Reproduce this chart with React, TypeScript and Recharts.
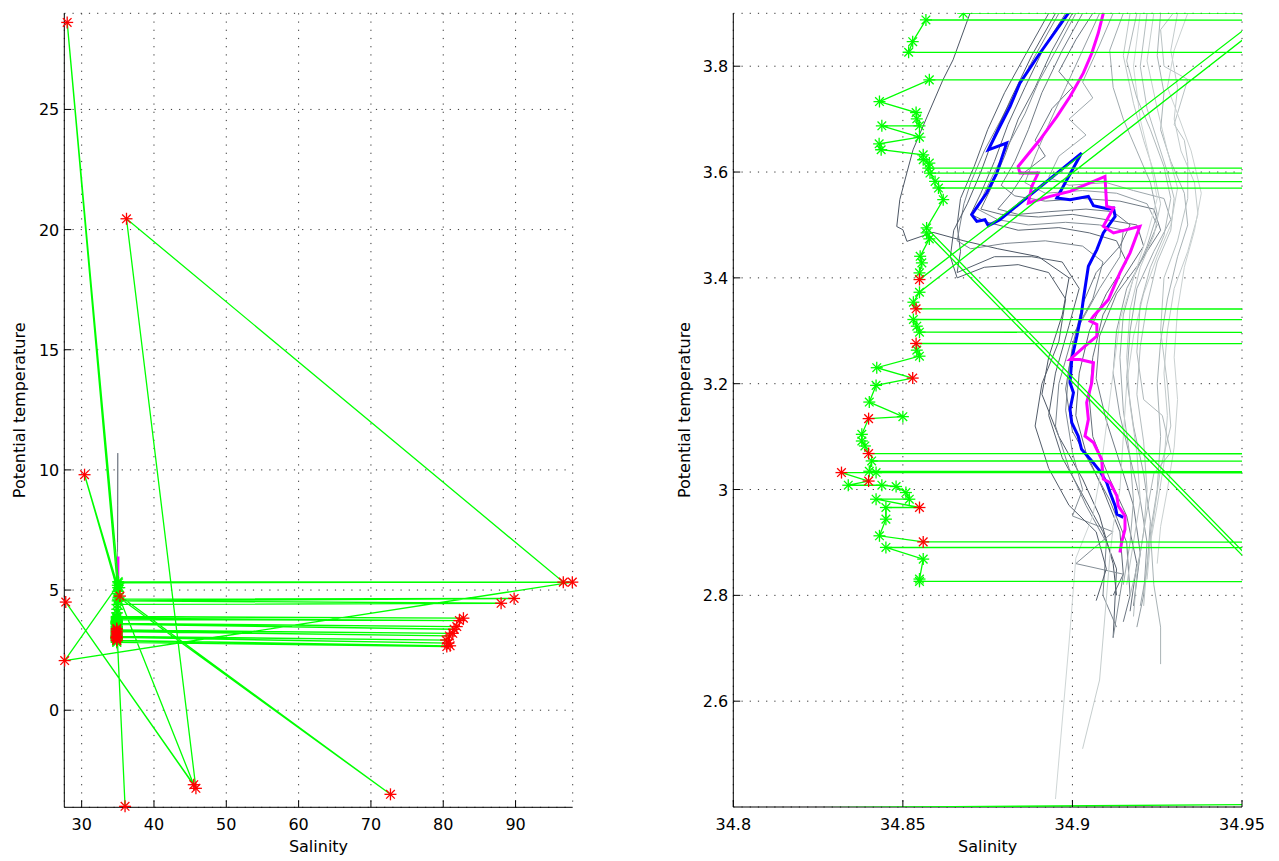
import React from "react";
import { ScatterChart, Scatter, XAxis, YAxis, CartesianGrid } from "recharts";

type Pt = [number, number];
type CastPt = [number, number, number]; // salinity, temperature, flagged

// ---- gray reference profiles (salinity, potential temperature) ----
const grayA1: Pt[] = [
  [35.0, 10.7], [34.99, 8.5], [34.96, 6.5], [34.92, 4.8], [34.885, 4.1], [34.8698, 3.9], [34.8648, 3.812],
  [34.8618, 3.774], [34.8571, 3.704], [34.853, 3.642], [34.8512, 3.599], [34.8491, 3.548], [34.8482, 3.497],
  [34.85, 3.491], [34.8512, 3.469], [34.8589, 3.486], [34.868, 3.47], [34.878, 3.455], [34.89, 3.44],
  [34.899, 3.4], [34.897, 3.33], [34.893, 3.25], [34.891, 3.18], [34.896, 3.1], [34.903, 3.02],
  [34.908, 2.95], [34.912, 2.86], [34.913, 2.8],
];
const grayA2: Pt[] = [
  [34.93, 5.2], [34.905, 4.1], [34.893, 3.9], [34.886, 3.82], [34.88, 3.75], [34.875, 3.68], [34.871, 3.61],
  [34.867, 3.55], [34.866, 3.5], [34.867, 3.45], [34.866, 3.41], [34.877, 3.44], [34.888, 3.44], [34.897, 3.43],
  [34.902, 3.38], [34.899, 3.31], [34.895, 3.22], [34.893, 3.14], [34.897, 3.06], [34.903, 2.99],
  [34.909, 2.92], [34.913, 2.85], [34.912, 2.72],
];
const grayA3: Pt[] = [
  [34.94, 5.6], [34.912, 4.1], [34.898, 3.9], [34.892, 3.84], [34.886, 3.76], [34.881, 3.69], [34.877, 3.62],
  [34.873, 3.56], [34.87, 3.52], [34.875, 3.505], [34.884, 3.49], [34.896, 3.495], [34.905, 3.485],
  [34.913, 3.47], [34.916, 3.43], [34.91, 3.37], [34.905, 3.3], [34.902, 3.22], [34.901, 3.14],
  [34.904, 3.07], [34.909, 3.0], [34.914, 2.92], [34.915, 2.84], [34.912, 2.8],
];
const grayA4: Pt[] = [
  [34.95, 6.2], [34.915, 4.2], [34.9, 3.9], [34.894, 3.83], [34.889, 3.76], [34.884, 3.7], [34.88, 3.63],
  [34.876, 3.57], [34.873, 3.53], [34.879, 3.52], [34.89, 3.515], [34.9, 3.52], [34.91, 3.51], [34.919, 3.5],
  [34.921, 3.46], [34.915, 3.4], [34.909, 3.33], [34.906, 3.25], [34.905, 3.17], [34.906, 3.1],
  [34.911, 3.02], [34.916, 2.95], [34.919, 2.86], [34.917, 2.77],
];
const grayA5: Pt[] = [
  [34.96, 7.0], [34.918, 4.2], [34.903, 3.9], [34.897, 3.83], [34.891, 3.75], [34.887, 3.68], [34.883, 3.62],
  [34.879, 3.575], [34.883, 3.555], [34.892, 3.545], [34.903, 3.55], [34.914, 3.545], [34.924, 3.53],
  [34.926, 3.49], [34.92, 3.43], [34.913, 3.37], [34.908, 3.29], [34.907, 3.21], [34.91, 3.13],
  [34.914, 3.05], [34.918, 2.97], [34.92, 2.88], [34.918, 2.78],
];
const grayA6: Pt[] = [
  [34.95, 5.8], [34.91, 4.0], [34.896, 3.9], [34.889, 3.82], [34.884, 3.76], [34.879, 3.7], [34.874, 3.64],
  [34.87, 3.58], [34.868, 3.54], [34.866, 3.47], [34.87, 3.455], [34.88, 3.465], [34.892, 3.47],
  [34.903, 3.46], [34.909, 3.43], [34.906, 3.36], [34.9, 3.29], [34.896, 3.2], [34.895, 3.12],
  [34.899, 3.04], [34.904, 2.97], [34.91, 2.9], [34.909, 2.8], [34.913, 2.74],
];
const grayA7: Pt[] = [
  [34.94, 5.0], [34.91, 4.05], [34.901, 3.9], [34.896, 3.84], [34.89, 3.77], [34.886, 3.71], [34.881, 3.65],
  [34.877, 3.6], [34.874, 3.56], [34.872, 3.53], [34.878, 3.51], [34.887, 3.5], [34.898, 3.505],
  [34.908, 3.5], [34.915, 3.49], [34.914, 3.44], [34.908, 3.38], [34.902, 3.31], [34.899, 3.23],
  [34.898, 3.15], [34.9, 3.07], [34.903, 3.0], [34.9, 2.95], [34.912, 2.92], [34.901, 2.86],
  [34.915, 2.84], [34.912, 2.72],
];
const grayA8: Pt[] = [
  [34.94, 5.4], [34.91, 4.1], [34.895, 3.9], [34.888, 3.82], [34.882, 3.74], [34.877, 3.67], [34.873, 3.6],
  [34.869, 3.54], [34.865, 3.49], [34.864, 3.44], [34.866, 3.4], [34.874, 3.42], [34.884, 3.425],
  [34.893, 3.41], [34.898, 3.36], [34.896, 3.28], [34.891, 3.2], [34.889, 3.12], [34.893, 3.04],
  [34.899, 2.97], [34.907, 2.92], [34.91, 2.85], [34.907, 2.79],
];
const grayA9: Pt[] = [
  [34.95, 5.2], [34.915, 4.0], [34.906, 3.9], [34.901, 3.85], [34.896, 3.79], [34.9, 3.76], [34.894, 3.72],
  [34.889, 3.66], [34.892, 3.63], [34.886, 3.6], [34.882, 3.56], [34.878, 3.53], [34.884, 3.52],
  [34.893, 3.525], [34.904, 3.53], [34.912, 3.525], [34.917, 3.5], [34.914, 3.46], [34.907, 3.41],
  [34.903, 3.35], [34.9, 3.27], [34.898, 3.19], [34.9, 3.11], [34.906, 3.04], [34.911, 2.98],
  [34.916, 2.9], [34.917, 2.8], [34.915, 2.75],
];
const grayB1: Pt[] = [
  [34.96, 6.6], [34.925, 4.3], [34.908, 3.9], [34.903, 3.83], [34.898, 3.76], [34.893, 3.69], [34.889, 3.63],
  [34.886, 3.58], [34.892, 3.56], [34.903, 3.565], [34.913, 3.56], [34.922, 3.54], [34.925, 3.5],
  [34.921, 3.44], [34.916, 3.38], [34.913, 3.3], [34.912, 3.22], [34.914, 3.14], [34.917, 3.06],
  [34.92, 2.98], [34.922, 2.9], [34.921, 2.8], [34.919, 2.74],
];
const grayB2: Pt[] = [
  [34.95, 5.5], [34.92, 4.2], [34.912, 3.9], [34.908, 3.84], [34.903, 3.77], [34.906, 3.74], [34.899, 3.7],
  [34.904, 3.67], [34.896, 3.63], [34.893, 3.59], [34.899, 3.575], [34.91, 3.58], [34.918, 3.565],
  [34.927, 3.55], [34.929, 3.51], [34.924, 3.45], [34.919, 3.38], [34.917, 3.3], [34.916, 3.21],
  [34.918, 3.12], [34.921, 3.03], [34.923, 2.94], [34.922, 2.85], [34.92, 2.78],
];
const grayB3: Pt[] = [
  [34.96, 6.2], [34.93, 4.3], [34.915, 3.9], [34.911, 3.83], [34.912, 3.76], [34.915, 3.7], [34.919, 3.64],
  [34.923, 3.58], [34.925, 3.52], [34.922, 3.46], [34.918, 3.4], [34.915, 3.33], [34.914, 3.25],
  [34.915, 3.15], [34.917, 3.06], [34.918, 2.98], [34.917, 2.9], [34.915, 2.82],
];
const grayC1: Pt[] = [
  [34.97, 6.0], [34.935, 4.2], [34.926, 3.9], [34.925, 3.82], [34.927, 3.75], [34.926, 3.68], [34.929, 3.62],
  [34.933, 3.56], [34.934, 3.5], [34.931, 3.44], [34.928, 3.36], [34.926, 3.28], [34.925, 3.2],
  [34.926, 3.1], [34.925, 3.0], [34.923, 2.92], [34.924, 2.82], [34.926, 2.74], [34.926, 2.67],
];
const grayC2: Pt[] = [
  [34.96, 5.4], [34.93, 4.1], [34.922, 3.9], [34.92, 3.8], [34.922, 3.72], [34.925, 3.66], [34.928, 3.6],
  [34.93, 3.55], [34.929, 3.49], [34.925, 3.43], [34.922, 3.35], [34.92, 3.27], [34.919, 3.18],
  [34.921, 3.09], [34.922, 3.0], [34.921, 2.92], [34.919, 2.84], [34.918, 2.76],
];
const grayC3: Pt[] = [
  [34.95, 4.8], [34.925, 4.05], [34.917, 3.9], [34.915, 3.82], [34.918, 3.73], [34.921, 3.66], [34.924, 3.6],
  [34.926, 3.54], [34.924, 3.48], [34.92, 3.42], [34.917, 3.34], [34.916, 3.25], [34.917, 3.16],
  [34.919, 3.07], [34.92, 2.98], [34.918, 2.9], [34.916, 2.82],
];
const grayC4: Pt[] = [
  [34.96, 5.0], [34.93, 4.0], [34.92, 3.9], [34.918, 3.8], [34.92, 3.7], [34.923, 3.62], [34.925, 3.55],
  [34.922, 3.48], [34.918, 3.4], [34.914, 3.32], [34.912, 3.22], [34.91, 3.12], [34.908, 3.02],
  [34.906, 2.95], [34.901, 2.87], [34.899, 2.71], [34.895, 2.415],
];
const grayC5: Pt[] = [
  [34.95, 4.6], [34.928, 3.98], [34.924, 3.9], [34.922, 3.81], [34.925, 3.72], [34.928, 3.64], [34.931, 3.57],
  [34.929, 3.5], [34.925, 3.44], [34.921, 3.37], [34.918, 3.29], [34.916, 3.2], [34.915, 3.1],
  [34.914, 3.0], [34.912, 2.93], [34.911, 2.87], [34.908, 2.64], [34.903, 2.51],
];
const grayC6: Pt[] = [
  [34.97, 5.5], [34.935, 4.1], [34.9297, 3.9], [34.926, 3.869], [34.927, 3.8], [34.934, 3.775], [34.93, 3.69],
  [34.933, 3.66], [34.934, 3.62], [34.934, 3.55], [34.931, 3.47], [34.927, 3.4], [34.926, 3.3],
  [34.928, 3.2], [34.929, 3.12], [34.926, 3.04], [34.924, 2.95], [34.922, 2.86], [34.921, 2.78],
];
const grayC7: Pt[] = [
  [34.97, 5.8], [34.94, 4.2], [34.931, 3.9], [34.929, 3.83], [34.931, 3.76], [34.93, 3.7], [34.932, 3.64],
  [34.936, 3.58], [34.937, 3.52], [34.934, 3.45], [34.93, 3.38], [34.928, 3.3], [34.927, 3.22],
  [34.928, 3.14], [34.927, 3.05], [34.925, 2.97], [34.923, 2.9], [34.922, 2.83],
];
const grayC8: Pt[] = [
  [34.96, 5.3], [34.93, 4.05], [34.919, 3.9], [34.916, 3.81], [34.919, 3.74], [34.923, 3.68], [34.927, 3.61],
  [34.929, 3.55], [34.927, 3.48], [34.923, 3.42], [34.92, 3.35], [34.919, 3.26], [34.921, 3.17],
  [34.9265, 3.14], [34.929, 3.07], [34.924, 3.03], [34.922, 2.96], [34.92, 2.88], [34.917, 2.8],
];
const grayC9: Pt[] = [
  [34.98, 6.0], [34.945, 4.2], [34.934, 3.9], [34.93, 3.83], [34.928, 3.76], [34.931, 3.71], [34.935, 3.64],
  [34.938, 3.56], [34.936, 3.49], [34.933, 3.42], [34.931, 3.34], [34.93, 3.25], [34.931, 3.17],
  [34.93, 3.08], [34.928, 3.0], [34.926, 2.93], [34.925, 2.86],
];

const grayProfiles = [grayA1, grayA2, grayA3, grayA4, grayA5, grayA6, grayA7, grayA8, grayA9,
  grayB1, grayB2, grayB3, grayC1, grayC2, grayC3, grayC4, grayC5, grayC6, grayC7, grayC8, grayC9];
const grayShades = ["#4c5664", "#56606d", "#5e6874", "#66707b", "#717b85", "#7b858e", "#848e96",
  "#535d6a", "#6c7682", "#929ca2", "#9da7ac", "#a1abaf", "#a9b3b6", "#b4bdbf", "#bec6c7", "#cfd6d6",
  "#c6cece", "#b9c2c3", "#c3cbcc", "#b0b9bb", "#cad1d1"];

// ---- highlighted profiles ----
const blueCast: Pt[] = [
  [34.96, 4.9], [34.93, 4.3], [34.912, 4.05], [34.8988, 3.9], [34.8904, 3.8245], [34.8845, 3.7679],
  [34.8816, 3.7238], [34.8786, 3.686], [34.8752, 3.642], [34.8806, 3.6547], [34.8777, 3.598],
  [34.8747, 3.5604], [34.8703, 3.5194], [34.8718, 3.5068], [34.8742, 3.51], [34.8752, 3.4987],
  [34.8786, 3.51], [34.9027, 3.6358], [34.8954, 3.551], [34.8993, 3.5477], [34.9047, 3.554],
  [34.9062, 3.5364], [34.9106, 3.5302], [34.9121, 3.532], [34.9126, 3.5162], [34.9091, 3.4849],
  [34.9072, 3.4534], [34.9047, 3.4219], [34.9032, 3.359], [34.9027, 3.334], [34.9013, 3.2898],
  [34.8998, 3.2458], [34.8993, 3.2019], [34.9003, 3.183], [34.8993, 3.1515], [34.8998, 3.1264],
  [34.9017, 3.1011], [34.9027, 3.076], [34.9057, 3.054], [34.9081, 3.035], [34.9101, 3.0132],
  [34.9111, 2.9943], [34.9126, 2.969], [34.9131, 2.9534], [34.915, 2.9472],
];
const magentaCast: Pt[] = [
  [35.02, 6.4], [35.0, 5.6], [34.97, 4.8], [34.94, 4.25], [34.92, 4.02], [34.9091, 3.9], [34.9076, 3.8623],
  [34.9057, 3.8245], [34.9032, 3.7868], [34.8993, 3.7426], [34.8954, 3.7049], [34.8904, 3.661],
  [34.884, 3.6106], [34.8845, 3.5981], [34.8899, 3.5981], [34.888, 3.5728], [34.887, 3.5415],
  [34.8934, 3.554], [34.8993, 3.5634], [34.9096, 3.5917], [34.9101, 3.5351], [34.9121, 3.532],
  [34.9091, 3.4974], [34.9121, 3.4849], [34.9199, 3.4974], [34.917, 3.4472], [34.914, 3.4094],
  [34.9106, 3.359], [34.9062, 3.3275], [34.9052, 3.3181], [34.9072, 3.3119], [34.9072, 3.2898],
  [34.9037, 3.2709], [34.8993, 3.2458], [34.9022, 3.2458], [34.9062, 3.2396], [34.9057, 3.2019],
  [34.9042, 3.1642], [34.9047, 3.1326], [34.9037, 3.1011], [34.9062, 3.0887], [34.9086, 3.0572],
  [34.9091, 3.0196], [34.9111, 3.0132], [34.9131, 2.9879], [34.9135, 2.969], [34.9155, 2.9502],
  [34.9155, 2.925], [34.9145, 2.9], [34.914, 2.8811],
];

// ---- suspect cast, in recorded order (flag 1 = bad value) ----
const suspectCast: CastPt[] = [
  [35.05, 5.35, 0], [96.6, 5.33, 1], [36.2, 20.45, 1], [45.8, -3.25, 1], [27.8, 4.5, 1], [45.5, -3.1, 1],
  [35.0, 4.85, 0], [35.3, 4.75, 1], [72.7, -3.5, 1], [35.1, 4.7, 0], [35.0, 5.2, 0], [27.65, 2.065, 1],
  [97.85, 5.33, 1], [35.1, 5.3, 0], [28.0, 28.62, 1], [35.0, 4.95, 0], [30.4, 9.8, 1], [35.05, 5.1, 0],
  [35.02, 4.62, 0], [89.8, 4.65, 1], [34.98, 4.55, 0], [88.0, 4.45, 1], [34.95, 4.4, 0], [34.92, 4.2, 0],
  [34.89, 4.05, 0],
  [34.8678, 3.9, 0], [82.79, 3.83, 1], [34.8568, 3.8874, 0], [34.8529, 3.8464, 0], [34.8517, 3.8264, 0],
  [82.23, 3.73, 1], [34.8578, 3.7742, 0], [34.8431, 3.7332, 0], [34.8539, 3.7125, 0], [34.8541, 3.7006, 0],
  [34.8549, 3.6874, 0], [34.8438, 3.6874, 0], [34.8549, 3.666, 0], [34.843, 3.6534, 0], [34.8436, 3.6421, 0],
  [34.856, 3.6326, 0], [34.856, 3.6232, 0], [34.8578, 3.617, 0], [34.8575, 3.6075, 0], [81.87, 3.48, 1],
  [34.858, 3.5981, 0], [34.8595, 3.5823, 0], [81.5, 3.37, 1], [34.8605, 3.5698, 0], [34.8619, 3.5477, 0],
  [34.857, 3.4943, 0], [36.0, -4.0, 1], [34.857, 3.4849, 0], [34.8578, 3.4736, 0], [34.8551, 3.4408, 0],
  [34.8556, 3.4283, 0], [34.8549, 3.4094, 0], [34.8549, 3.3968, 1], [35.2, 5.1, 0], [34.8549, 3.3728, 0],
  [34.8531, 3.354, 0], [34.8539, 3.3415, 1], [81.32, 3.2, 1], [34.8531, 3.3213, 0], [34.8541, 3.3087, 0],
  [34.8549, 3.2974, 0], [80.85, 3.09, 1], [34.8539, 3.276, 1], [34.8541, 3.2634, 0], [34.8549, 3.252, 0],
  [34.8423, 3.2302, 0], [34.8529, 3.2106, 1], [34.8421, 3.1968, 0], [34.8401, 3.1653, 0], [34.85, 3.1377, 0],
  [34.8399, 3.134, 1], [34.8379, 3.1043, 0], [34.8379, 3.0917, 0], [34.8388, 3.0823, 0], [34.8399, 3.068, 1],
  [80.4, 2.92, 1], [34.8408, 3.054, 0], [34.8401, 3.0345, 0], [80.71, 2.79, 1], [34.8421, 3.032, 0],
  [34.8319, 3.032, 1], [34.8399, 3.016, 1], [34.8339, 3.0081, 0], [34.8438, 3.0081, 0], [34.848, 3.0057, 0],
  [34.8509, 2.9943, 0], [34.8519, 2.9817, 0], [34.8421, 2.9817, 0], [34.8549, 2.966, 1], [34.845, 2.966, 0],
  [34.845, 2.944, 0], [34.8431, 2.9125, 0], [34.856, 2.901, 1], [80.95, 2.68, 1], [34.845, 2.8906, 0],
  [34.856, 2.8685, 0], [34.8549, 2.8308, 0], [34.8549, 2.8264, 0], [80.49, 2.65, 1],
];

// ---- axes ----
const fullSalTicks = [30, 40, 50, 60, 70, 80, 90];
const fullTempTicks = [0, 5, 10, 15, 20, 25];
const zoomSalTicks = [34.8, 34.85, 34.9, 34.95];
const zoomTempTicks = [2.6, 2.8, 3, 3.2, 3.4, 3.6, 3.8];

const toXY = (arr: Pt[]) => arr.map(([x, y]) => ({ x, y }));
const castLine = suspectCast.map(([x, y]) => ({ x, y }));
const castGood = suspectCast.filter((p) => p[2] === 0).map(([x, y]) => ({ x, y }));
const castBad = suspectCast.filter((p) => p[2] === 1).map(([x, y]) => ({ x, y }));

const FONT = "'DejaVu Sans', 'Liberation Sans', sans-serif";
const TL = 7;
const fmt = (v: number) => String(parseFloat(Number(v).toFixed(2)));

const hideDot = () => <g />;
const star = (color: string, r: number) => (p: any) => {
  const { cx, cy } = p;
  if (cx == null || cy == null) return <g />;
  const d = r * 0.72;
  return (
    <g stroke={color} strokeWidth={1.3}>
      <line x1={cx - r} y1={cy} x2={cx + r} y2={cy} />
      <line x1={cx} y1={cy - r} x2={cx} y2={cy + r} />
      <line x1={cx - d} y1={cy - d} x2={cx + d} y2={cy + d} />
      <line x1={cx - d} y1={cy + d} x2={cx + d} y2={cy - d} />
    </g>
  );
};

const BottomTick = (p: any) => (
  <g>
    <line x1={p.x} y1={p.y} x2={p.x} y2={p.y - TL} stroke="#000" />
    <text x={p.x} y={p.y + 23} textAnchor="middle" fontSize={16} fontFamily={FONT} fill="#000">
      {fmt(p.payload.value)}
    </text>
  </g>
);
const TopTick = (p: any) => <line x1={p.x} y1={p.y} x2={p.x} y2={p.y + TL} stroke="#000" />;
const LeftTick = (p: any) => (
  <g>
    <line x1={p.x} y1={p.y} x2={p.x + TL} y2={p.y} stroke="#000" />
    <text x={p.x - 5} y={p.y + 6} textAnchor="end" fontSize={16} fontFamily={FONT} fill="#000">
      {fmt(p.payload.value)}
    </text>
  </g>
);
const RightTick = (p: any) => <line x1={p.x} y1={p.y} x2={p.x - TL} y2={p.y} stroke="#000" />;

interface PanelProps {
  left: number;
  width: number;
  yAxisW: number;
  marginRight: number;
  xAxisH: number;
  xDomain: [number, number];
  yDomain: [number, number];
  xTicks: number[];
  yTicks: number[];
  clip: boolean;
  yLabelX: number;
}

const Panel: React.FC<PanelProps> = ({ left, width, yAxisW, marginRight, xAxisH, xDomain, yDomain, xTicks, yTicks, clip, yLabelX }) => {
  const top = 13.3;
  const plotMidX = (yAxisW + width - marginRight) / 2;
  const plotMidY = (top + 861 - xAxisH) / 2;
  return (
    <div style={{ position: "absolute", left, top: 0 }}>
      <ScatterChart width={width} height={861} margin={{ top, right: marginRight, bottom: 0, left: 0 }}>
        <CartesianGrid stroke="#333" strokeDasharray="1.2 7" />
        <XAxis dataKey="x" type="number" domain={xDomain} ticks={xTicks} allowDataOverflow={clip}
          height={xAxisH} tickLine={false} tickSize={0} tickMargin={0} interval={0}
          axisLine={{ stroke: "#000" }} tick={BottomTick}
          label={() => (
            <text x={plotMidX} y={852} textAnchor="middle" fontSize={16} fontFamily={FONT} fill="#000">Salinity</text>
          )} />
        <XAxis xAxisId="top" orientation="top" type="number" domain={xDomain} ticks={xTicks} allowDataOverflow
          height={0} tickLine={false} tickSize={0} tickMargin={0} interval={0}
          axisLine={{ stroke: "#222" }} tick={TopTick} />
        <YAxis dataKey="y" type="number" domain={yDomain} ticks={yTicks} allowDataOverflow={clip}
          width={yAxisW} tickLine={false} tickSize={0} tickMargin={0} interval={0}
          axisLine={{ stroke: "#000" }} tick={LeftTick}
          label={() => (
            <text x={yLabelX} y={plotMidY} transform={`rotate(-90, ${yLabelX}, ${plotMidY})`}
              textAnchor="middle" fontSize={16} fontFamily={FONT} fill="#000">Potential temperature</text>
          )} />
        <YAxis yAxisId="right" orientation="right" type="number" domain={yDomain} ticks={yTicks} allowDataOverflow
          width={0} tickLine={false} tickSize={0} tickMargin={0} interval={0}
          axisLine={{ stroke: "#222" }} tick={RightTick} />
        {grayProfiles.map((prof, i) => (
          <Scatter key={`g${i}`} data={toXY(prof)} line={{ stroke: grayShades[i], strokeWidth: 1 }}
            lineType="joint" shape={hideDot} isAnimationActive={false} />
        ))}
        <Scatter data={toXY(blueCast)} line={{ stroke: "#0000ff", strokeWidth: 3 }} lineType="joint"
          shape={hideDot} isAnimationActive={false} />
        <Scatter data={toXY(magentaCast)} line={{ stroke: "#ff00ff", strokeWidth: 3 }} lineType="joint"
          shape={hideDot} isAnimationActive={false} />
        <Scatter data={castLine} line={{ stroke: "#00ff00", strokeWidth: 1.3 }} lineType="joint"
          shape={hideDot} isAnimationActive={false} />
        <Scatter data={castGood} shape={star("#00ff00", 6)} isAnimationActive={false} />
        <Scatter data={castBad} shape={star("#ff0000", 6)} isAnimationActive={false} />
      </ScatterChart>
    </div>
  );
};

export default function App() {
  return (
    <div style={{ position: "absolute", left: 0, top: 0, width: 1279, height: 861, background: "#fff" }}>
      <Panel left={0} width={600} yAxisW={64.3} marginRight={27.3} xAxisH={53.7}
        xDomain={[27.6, 97.9]} yDomain={[-4.04, 29.0]} xTicks={fullSalTicks} yTicks={fullTempTicks}
        clip={false} yLabelX={25} />
      <Panel left={640} width={639} yAxisW={93.3} marginRight={37} xAxisH={54}
        xDomain={[34.8, 34.95]} yDomain={[2.4, 3.9]} xTicks={zoomSalTicks} yTicks={zoomTempTicks}
        clip={true} yLabelX={50} />
    </div>
  );
}
